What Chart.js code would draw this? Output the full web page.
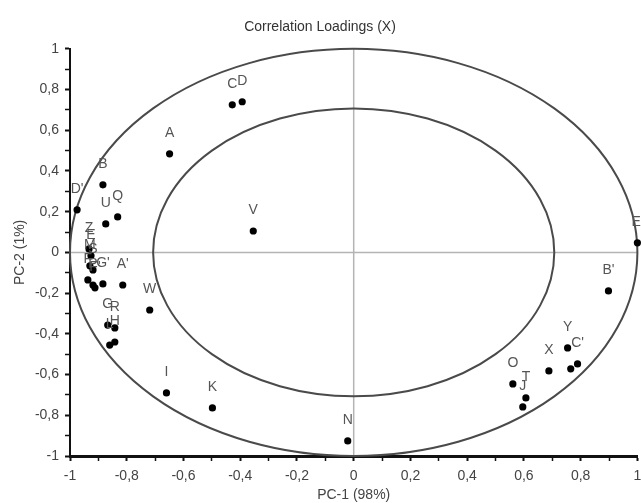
<!DOCTYPE html>
<html><head><meta charset="utf-8">
<script src="https://cdn.jsdelivr.net/npm/chart.js@4/dist/chart.umd.min.js"></script>
<style>html,body{margin:0;padding:0;background:#fff}#wrap{width:641px;height:503px}</style>
</head><body><div id="wrap"><canvas id="c" width="641" height="503"></canvas></div>
<script>
// ---- data ----
const pointLabels = ["A","B","C","D","E","F","G","H","I","J","K","L","M","N","O","P","Q","R","S","T","U","V","W","X","Y","Z","A'","B'","C'","D'","E'","F'","G'",""];
const pc1 = [-0.649,-0.884,-0.428,-0.393,-0.926,-0.937,-0.867,-0.842,-0.660,0.596,-0.498,-0.860,-0.930,-0.021,0.561,-0.919,-0.832,-0.842,-0.919,0.607,-0.874,-0.354,-0.719,0.688,0.754,-0.933,-0.814,0.898,0.789,-0.975,1.000,-0.912,-0.884,0.765];
const pc2 = [0.484,0.332,0.725,0.740,-0.017,-0.135,-0.357,-0.440,-0.690,-0.759,-0.764,-0.455,-0.066,-0.926,-0.646,-0.160,0.174,-0.371,-0.086,-0.715,0.140,0.105,-0.283,-0.582,-0.469,0.017,-0.160,-0.189,-0.548,0.209,0.047,-0.174,-0.155,-0.572];
const circleRadii = [1.0, 0.707];   // outer (100%) and inner (50%) explained variance
const titleText = "Correlation Loadings (X)";
const xTitle = "PC-1 (98%)";
const yTitle = "PC-2 (1%)";

const FONT = "'Liberation Sans', Arial, sans-serif";

function fmt(v){
  const t = Math.round(v*10);
  if (t % 2 !== 0) return '';
  return String(t/10).replace('.', ',');
}

const refGeometry = {
  id: 'refGeometry',
  beforeDatasetsDraw(chart){
    const {ctx, chartArea: a} = chart;
    const xs = chart.scales.x, ys = chart.scales.y;
    const cx = xs.getPixelForValue(0), cy = ys.getPixelForValue(0);
    ctx.save();
    ctx.strokeStyle = '#b4b4b4'; ctx.lineWidth = 1.5;
    ctx.beginPath(); ctx.moveTo(a.left, cy); ctx.lineTo(a.right, cy); ctx.stroke();
    ctx.beginPath(); ctx.moveTo(cx, a.top); ctx.lineTo(cx, a.bottom); ctx.stroke();
    ctx.strokeStyle = '#4a4a4a'; ctx.lineWidth = 2;
    circleRadii.forEach(r => {
      const rx = xs.getPixelForValue(r) - cx;
      const ry = cy - ys.getPixelForValue(r);
      ctx.beginPath(); ctx.ellipse(cx, cy, rx, ry, 0, 0, Math.PI*2); ctx.stroke();
    });
    ctx.restore();
  }
};

const pointText = {
  id: 'pointText',
  afterDatasetsDraw(chart){
    const {ctx} = chart;
    const meta = chart.getDatasetMeta(0);
    ctx.save();
    ctx.font = '14px ' + FONT;
    ctx.fillStyle = '#555';
    ctx.textAlign = 'center'; ctx.textBaseline = 'middle';
    meta.data.forEach((el, i) => {
      if (pointLabels[i]) ctx.fillText(pointLabels[i], el.x, el.y - 21);
    });
    ctx.restore();
  }
};

new Chart(document.getElementById('c'), {
  type: 'scatter',
  data: {
    datasets: [{
      data: pc1.map((x, i) => ({x, y: pc2[i]})),
      pointRadius: 3.6,
      pointHoverRadius: 3.6,
      backgroundColor: '#000',
      borderWidth: 0,
      clip: false
    }]
  },
  options: {
    responsive: false,
    devicePixelRatio: 1,
    animation: false,
    layout: { padding: { top: 0, right: 1, left: 0, bottom: 0 } },
    plugins: {
      legend: { display: false },
      tooltip: { enabled: false },
      title: {
        display: true, text: titleText, color: '#333',
        font: { family: FONT, size: 14, weight: 'normal' },
        padding: { top: 19, bottom: 13 }
      }
    },
    scales: {
      x: {
        type: 'linear', position: 'bottom', min: -1, max: 1,
        ticks: { stepSize: 0.1, autoSkip: false, maxRotation: 0, padding: 7,
                 color: '#444', font: { family: FONT, size: 14 }, callback: v => fmt(v) },
        grid: { drawOnChartArea: false, drawTicks: true, tickLength: 5, tickColor: '#111',
                tickWidth: c => (Math.round(c.tick.value*10) % 2 === 0 ? 2 : 1.5) },
        border: { display: true, color: '#111', width: 3 },
        title: { display: true, text: xTitle, color: '#444', font: { family: FONT, size: 14 }, padding: { top: 0, bottom: -1 } },
        afterFit: s => { s.height = 47; s.paddingLeft = 0; s.paddingRight = 0; }
      },
      y: {
        type: 'linear', position: 'left', min: -1, max: 1,
        ticks: { stepSize: 0.1, autoSkip: false, padding: 6,
                 color: '#444', font: { family: FONT, size: 14 }, callback: v => fmt(v) },
        grid: { drawOnChartArea: false, drawTicks: true, tickLength: 5, tickColor: '#111',
                tickWidth: c => (Math.round(c.tick.value*10) % 2 === 0 ? 2 : 1.5) },
        border: { display: true, color: '#111', width: 2 },
        title: { display: true, text: yTitle, color: '#444', font: { family: FONT, size: 14 }, padding: { top: 12, bottom: 0 } },
        afterFit: s => { s.width = 70; s.paddingTop = 0; s.paddingBottom = 0; }
      }
    }
  },
  plugins: [refGeometry, pointText]
});
</script>
</body></html>
